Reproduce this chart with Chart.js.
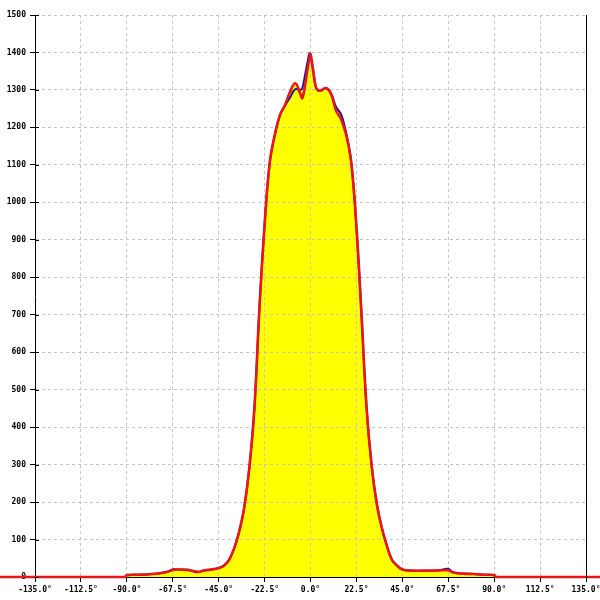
<!DOCTYPE html>
<html>
<head>
<meta charset="utf-8">
<script src="https://cdn.jsdelivr.net/npm/chart.js@4"></script>
<style>
  body { margin: 0; background: #fff; }
  canvas { display: block; }
</style>
</head>
<body>
<canvas id="chart" width="600" height="600"></canvas>
<script>
// angle (deg) of every sample, shared by both series
const angles = [
  -180, -100, -91, -90, -85, -80, -75, -70, -67.5, -65, -60, -57.5, -55, -52.5, -50, -47.5,
  -45, -42.5, -40, -37.5, -35, -32.5, -30, -27.5, -25, -22.5, -20, -17.5, -15, -12.5,
  -10, -7.5, -5, -4, -2.5, -1.25, -0.5, 0, 1.25, 2.5, 3.5, 5, 7.5, 10, 12.5, 15, 17.5,
  20, 22.5, 25, 27.5, 30, 32.5, 35, 37.5, 40, 42.5, 45, 50, 55, 60, 65, 67.5, 70, 75,
  80, 85, 90, 91, 100, 180
]
const redValues = [
  0, 0, 0, 5, 6, 7, 9, 14, 19, 20, 19, 16, 14, 17, 19, 21,
  24, 30, 45, 75, 120, 185, 290, 450, 720, 940, 1105, 1180, 1232, 1260,
  1295, 1318, 1290, 1278, 1318, 1362, 1385, 1396, 1353, 1310, 1300, 1298, 1305, 1290, 1245, 1222, 1180,
  1105, 935, 700, 450, 295, 195, 130, 82, 45, 30, 20, 17, 17, 17, 18, 18, 12, 9,
  8, 6, 5, 0, 0, 0
]
const blueValues = [
  0, 0, 0, 5, 6, 7, 9, 14, 20, 20, 19, 15, 13, 17, 19, 21,
  24, 30, 45, 75, 120, 185, 290, 450, 720, 940, 1105, 1180, 1232, 1258,
  1280, 1302, 1300, 1305, 1345, 1380, 1398, 1390, 1355, 1310, 1300, 1298, 1305, 1292, 1255, 1235, 1185,
  1105, 935, 700, 450, 295, 195, 130, 82, 45, 30, 20, 17, 17, 17, 20, 22, 12, 9,
  8, 6, 5, 0, 0, 0
]
const xTickStep = 22.5
const yTickStep = 100

const toPoints = vals => angles.map((a, i) => ({ x: a, y: vals[i] }))

const labelFont = { family: 'DejaVu Sans Mono', size: 8, weight: 'bold' }

// black right edge line + short tick marks on the inside of the y axis
const axisExtras = {
  id: 'axisExtras',
  afterDraw(chart) {
    const ctx = chart.ctx
    const area = chart.chartArea
    const y = chart.scales.y
    ctx.save()
    ctx.strokeStyle = '#000'
    ctx.lineWidth = 1
    ctx.beginPath()
    ctx.moveTo(Math.round(area.right) + 0.5, area.top)
    ctx.lineTo(Math.round(area.right) + 0.5, area.bottom + 5)
    y.ticks.forEach(t => {
      const py = Math.round(y.getPixelForValue(t.value)) + 0.5
      ctx.moveTo(area.left, py)
      ctx.lineTo(area.left + 4, py)
    })
    ctx.stroke()
    ctx.restore()
  },
}

new Chart(document.getElementById('chart'), {
  type: 'line',
  data: {
    datasets: [
      {
        data: toPoints(redValues),
        borderColor: '#e8161a',
        borderWidth: 2.6,
        backgroundColor: '#ffff00',
        fill: 'origin',
        pointRadius: 0,
        tension: 0.4,
        clip: false,
      },
      {
        data: toPoints(blueValues),
        borderColor: '#1414a0',
        borderWidth: 2,
        backgroundColor: '#ffff00',
        fill: 'origin',
        pointRadius: 0,
        tension: 0.4,
        clip: false,
      },
    ],
  },
  options: {
    responsive: false,
    animation: false,
    layout: { padding: { left: 0, right: 14, top: 15, bottom: 0 } },
    plugins: {
      legend: { display: false },
      tooltip: { enabled: false },
      filler: { drawTime: 'beforeDraw' },
    },
    scales: {
      x: {
        type: 'linear',
        min: -135,
        max: 135,
        grid: { color: '#c4c4c4', tickColor: '#000', tickLength: 5 },
        border: { color: '#000', dash: [3, 3] },
        ticks: {
          stepSize: xTickStep,
          autoSkip: false,
          maxRotation: 0,
          padding: 3,
          color: '#000',
          font: labelFont,
          callback: v => v.toFixed(1) + '°',
        },
        afterFit: s => {
          s.height = 23
          s.paddingLeft = 0
          s.paddingRight = 0
        },
      },
      y: {
        min: 0,
        max: 1500,
        grid: { color: '#c4c4c4', tickColor: '#000', tickLength: 5 },
        border: { color: '#000', dash: [3, 3] },
        ticks: {
          stepSize: yTickStep,
          padding: 4,
          color: '#000',
          font: labelFont,
          callback: v => String(v),
        },
        afterFit: s => {
          s.width = 35
          s.paddingTop = 0
          s.paddingBottom = 0
        },
      },
    },
  },
  plugins: [axisExtras],
})
</script>
</body>
</html>
